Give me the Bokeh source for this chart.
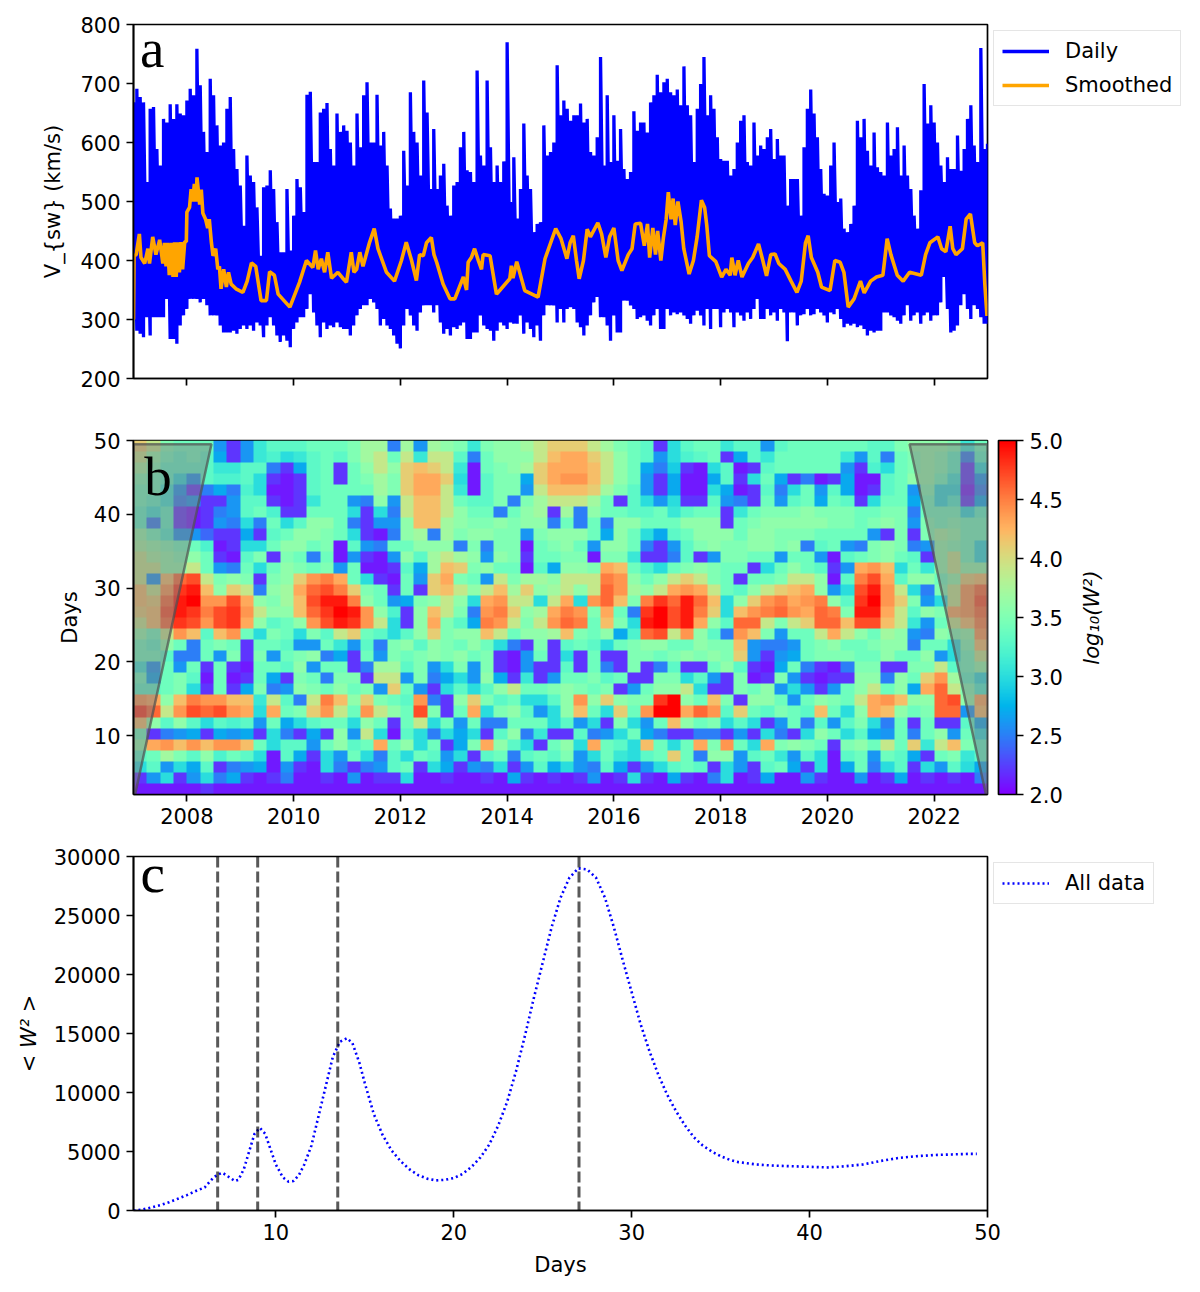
import math
import numpy as np
from bokeh.plotting import figure
from bokeh.layouts import column, row
from bokeh.models import (Range1d, FixedTicker, Legend, LegendItem, Span, Label, ColorBar,
                          LinearColorMapper, NumeralTickFormatter)
from bokeh.embed import file_html
from bokeh.resources import INLINE

# ---------------- panel a data ----------------
daily_start = 2007.0
daily_end = 2023.0
daily_high = [668,691,677,668,533,657,660,589,561,640,634,665,640,665,649,646,671,691,680,759,697,618,584,708,680,629,595,600,657,677,589,555,527,459,578,544,533,490,408,524,527,553,521,465,414,414,521,417,476,538,524,482,681,686,567,567,651,657,667,589,561,649,618,629,620,600,561,649,592,680,702,600,600,681,595,618,561,488,471,471,476,586,527,685,618,600,544,705,651,521,623,521,544,564,493,476,527,533,592,618,553,550,533,722,578,561,705,592,533,561,533,568,770,499,575,471,521,632,544,521,448,462,465,629,578,584,600,731,
646,671,657,637,646,646,666,634,640,584,578,609,745,561,680,567,646,569,623,555,538,550,653,620,634,634,617,668,680,715,685,702,708,685,680,690,663,729,663,646,567,657,699,745,646,680,657,609,572,569,569,544,555,600,637,646,567,561,634,578,595,589,609,623,572,606,578,578,493,538,538,538,476,592,657,690,649,609,555,513,510,561,600,499,505,454,448,462,493,637,609,640,586,561,617,558,550,544,634,578,589,626,544,595,544,521,476,454,519,699,632,663,634,600,561,533,575,555,555,612,552,589,640,663,595,567,760,589,598]
daily_low = [307,281,276,270,304,273,304,304,304,304,335,267,267,259,290,307,318,335,335,335,329,335,324,307,307,307,290,278,278,278,281,276,284,290,284,290,281,295,290,270,290,304,290,273,262,273,264,253,284,295,304,304,318,343,312,290,270,295,284,290,287,295,287,284,284,273,290,307,318,324,324,335,329,318,290,301,290,284,273,259,251,290,318,307,290,281,312,324,324,324,312,324,295,276,284,273,287,284,290,295,267,267,278,278,307,290,284,281,264,281,295,290,284,295,293,293,307,276,295,284,270,290,264,307,324,324,324,295,
318,295,318,321,318,295,287,273,290,307,329,338,304,304,290,264,307,278,278,332,332,324,318,301,304,307,298,290,307,318,284,284,318,307,312,309,312,307,301,293,307,315,307,290,318,284,318,318,287,312,318,312,287,312,307,298,312,301,318,335,301,301,318,307,312,298,318,312,263,312,312,290,307,309,318,307,309,318,312,307,295,312,309,318,301,287,293,290,293,287,290,284,273,281,278,281,281,312,312,307,304,298,293,307,324,298,307,312,293,307,312,298,307,307,329,372,318,278,281,290,324,343,318,301,324,318,304,293,293]
smooth_years = [2007.00,2007.01,2007.05,2007.11,2007.14,2007.21,2007.27,2007.30,2007.36,2007.42,2007.49,2007.55,2007.58,2007.61,2007.64,2007.67,2007.71,2007.74,2007.77,2007.80,2007.83,2007.86,2007.89,2007.92,2007.96,2007.99,2008.00,2008.05,2008.08,2008.11,2008.14,2008.17,2008.19,2008.24,2008.27,2008.30,2008.35,2008.39,2008.42,2008.46,2008.49,2008.54,2008.58,2008.61,2008.64,2008.69,2008.74,2008.78,2008.83,2008.92,2009.05,2009.13,2009.21,2009.29,2009.39,2009.49,2009.55,2009.64,2009.71,2009.93,2010.11,2010.24,2010.36,2010.41,2010.46,2010.52,2010.58,2010.64,2010.71,2010.83,2010.92,2010.99,2011.08,2011.13,2011.18,2011.24,2011.30,2011.42,2011.51,2011.58,2011.74,2011.89,2012.02,2012.11,2012.21,2012.30,2012.36,2012.43,2012.49,2012.58,2012.63,2012.68,2012.80,2012.93,2013.02,2013.18,2013.24,2013.27,2013.33,2013.39,2013.46,2013.52,2013.55,2013.68,2013.80,2013.82,2014.05,2014.08,2014.11,2014.18,2014.33,2014.58,2014.71,2014.91,
2015.01,2015.12,2015.18,2015.24,2015.30,2015.35,2015.43,2015.50,2015.56,2015.70,2015.77,2015.85,2015.92,2016.00,2016.08,2016.15,2016.27,2016.34,2016.40,2016.50,2016.57,2016.63,2016.67,2016.73,2016.78,2016.82,2016.88,2016.93,2016.98,2017.02,2017.07,2017.11,2017.15,2017.20,2017.26,2017.31,2017.41,2017.49,2017.56,2017.64,2017.70,2017.74,2017.79,2017.91,2018.02,2018.10,2018.18,2018.21,2018.27,2018.33,2018.40,2018.52,2018.60,2018.71,2018.79,2018.86,2018.94,2019.02,2019.09,2019.21,2019.32,2019.43,2019.51,2019.59,2019.64,2019.70,2019.82,2019.89,2020.05,2020.14,2020.24,2020.31,2020.39,2020.50,2020.62,2020.69,2020.81,2020.92,2021.04,2021.12,2021.19,2021.31,2021.42,2021.54,2021.76,2021.84,2021.92,2022.07,2022.14,2022.22,2022.30,2022.35,2022.41,2022.53,2022.60,2022.68,2022.76,2022.81,2022.91,2022.95,2022.99]
smooth_vals = [300,408,410,445,405,395,420,395,440,410,435,395,430,390,430,375,430,372,431,372,431,380,431,385,432,432,482,490,521,500,530,500,541,495,520,480,470,455,470,430,408,420,385,390,352,385,355,380,360,352,346,365,396,390,332,332,381,375,343,321,363,400,388,417,385,403,380,414,370,380,370,363,414,380,385,414,390,430,454,420,380,365,400,431,400,366,410,408,430,439,410,397,360,335,335,372,350,397,405,420,400,385,410,408,343,345,369,391,370,398,349,338,403,454,
437,403,430,442,400,369,400,453,440,464,445,405,440,455,400,383,410,420,462,463,425,462,405,455,410,450,400,440,470,516,470,505,460,500,465,420,377,400,440,502,490,460,408,398,372,385,375,405,375,400,372,395,405,428,400,374,410,411,395,385,365,346,365,430,442,405,380,355,349,400,397,380,321,335,365,345,365,372,375,437,410,375,365,380,375,410,430,440,420,415,458,420,410,420,470,479,430,425,430,360,306]

# ---------------- panel b data: log10(W^2) x 10, rows top (50 d) to bottom (2 d) ----------------
power_grid = [
[41,39,35,34,34,34,26,22, 26,31,33,33,33,34,34,34, 35,37,37,25,37,26,37,36, 35,31,35,36,36,37,39,41, 41,41,39,37,35,34,33,22, 30,33,34,34,31,33,33,26, 33,34,34,34,34,34,34,33, 33,35,36,36,36,35,31,34],
[39,36,34,33,34,33,27,22, 26,31,32,30,31,33,34,33, 35,37,39,34,39,31,39,39, 33,25,34,36,36,36,39,42, 43,43,41,39,36,34,33,26, 30,32,33,34,22,27,33,31, 34,34,34,34,34,31,26,33, 25,34,35,36,35,33,25,33],
[37,35,33,33,33,33,31,31, 33,33,25,22,27,33,34,22, 34,36,39,36,41,42,41,39, 31,21,34,35,36,37,41,43, 43,43,42,39,36,34,27,25, 29,22,21,30,33,21,22,33, 34,34,34,34,34,26,22,32, 30,34,35,36,35,33,22,30],
[35,34,33,30,26,33,32,32, 33,30,22,21,22,33,34,22, 34,35,37,35,41,43,43,41, 30,21,33,35,35,27,41,43, 44,44,42,39,36,34,26,22, 27,21,21,27,33,22,30,34, 27,22,25,21,22,27,21,21, 33,34,36,36,34,31,22,26],
[34,34,31,26,22,25,27,25, 32,30,21,21,22,33,34,34, 34,34,37,35,41,43,43,39, 31,21,33,35,35,26,39,42, 42,42,41,37,35,33,26,22, 27,21,21,30,27,21,22,33, 25,30,34,26,33,27,21,22, 33,34,26,35,30,30,21,25],
[34,33,31,25,26,22,22,26, 33,33,22,21,22,31,34,34, 26,25,36,26,39,42,42,39, 34,33,33,35,25,35,37,39, 39,39,37,34,22,33,30,26, 30,22,22,33,26,25,22,34, 26,33,34,27,34,33,22,30, 34,34,27,34,30,32,22,27],
[33,31,33,22,21,22,25,26, 33,34,32,22,22,34,34,34, 30,22,30,25,39,42,42,39, 36,34,34,25,34,36,37,22, 37,25,36,34,34,33,33,34, 31,33,34,34,22,31,34,35, 35,35,36,35,35,35,34,34, 35,35,25,34,34,34,30,33],
[33,25,33,22,21,22,26,25, 30,25,34,30,33,36,36,34, 25,22,26,26,36,42,42,37, 36,35,35,36,35,36,36,25, 34,25,34,25,36,36,34,34, 34,36,36,36,22,34,35,36, 36,36,36,36,35,35,34,35, 36,35,26,35,34,35,34,34],
[36,34,32,26,26,24,22,22, 27,22,33,34,36,36,35,34, 30,22,21,25,36,37,25,37, 35,36,36,35,35,26,35,36, 36,36,34,27,36,34,30,27, 33,34,36,36,36,34,36,36, 35,35,35,34,34,34,34,26, 22,35,22,35,37,36,34,34],
[37,36,35,34,34,32,21,22, 30,30,34,36,36,34,35,21, 33,26,25,34,34,36,36,36, 25,35,25,35,35,21,34,35, 36,34,26,36,36,34,25,22, 26,33,35,36,35,35,36,36, 35,36,25,33,34,26,25,35, 36,35,25,26,36,35,34,30],
[39,37,36,35,36,34,22,21, 33,35,22,35,34,25,34,21, 26,22,21,26,36,33,37,39, 37,36,26,36,35,22,34,34, 35,35,21,35,35,31,22,22, 25,33,22,26,35,35,34,34, 26,34,34,26,21,33,34,35, 36,34,33,22,36,39,34,30],
[39,39,36,36,39,34,26,25, 34,30,34,36,35,34,35,26, 34,21,21,22,33,27,37,42, 41,35,36,34,34,21,33,27, 36,36,35,43,42,34,32,30, 34,35,36,35,34,34,22,30, 34,36,34,33,22,26,43,44, 42,30,34,31,36,39,36,36],
[39,26,42,46,47,39,35,36, 35,22,35,36,41,44,45,43, 34,30,22,21,34,26,41,43, 35,34,26,39,35,37,37,36, 39,39,39,45,44,36,34,36, 39,41,39,35,34,22,34,34, 35,39,39,36,21,33,45,47, 43,33,36,36,34,36,41,42],
[42,39,44,48,49,42,36,41, 39,25,36,37,43,46,47,45, 41,35,34,22,34,22,41,42, 39,36,39,42,37,41,36,37, 39,36,39,46,44,37,36,39, 43,44,43,39,34,33,36,39, 41,42,43,36,26,30,47,49, 44,39,30,25,35,39,44,46],
[42,41,46,49,50,44,44,47, 43,36,35,37,42,47,49,49, 45,36,34,26,27,35,36,39, 36,30,43,44,39,39,30,39, 43,30,44,46,42,35,45,48, 46,49,46,42,30,36,41,44, 45,43,44,45,36,33,48,50, 44,41,35,26,30,39,44,47],
[41,42,47,49,48,45,47,48, 44,39,36,36,42,46,48,50, 49,44,36,32,22,36,42,39, 35,25,44,45,41,36,37,43, 45,44,35,43,34,25,48,50, 47,49,45,41,30,42,44,45, 46,44,43,46,45,35,49,49, 43,39,33,36,35,43,44,46],
[39,42,46,48,47,44,47,48, 43,36,33,34,36,44,47,49, 48,44,39,30,22,36,43,35, 33,27,45,44,39,35,39,44, 46,45,34,42,35,30,49,50, 47,49,43,36,33,46,46,39, 35,39,41,46,46,42,47,47, 42,39,31,26,34,39,42,45],
[36,34,39,44,42,33,42,44, 34,30,35,34,30,35,33,39, 41,34,33,30,33,36,41,35, 36,36,42,39,34,36,36,37, 42,35,34,36,27,32,46,47, 39,44,36,33,25,44,42,35, 26,34,34,39,43,39,36,34, 37,36,26,25,36,35,36,44],
[34,33,36,34,25,34,35,34, 22,34,34,33,26,26,34,31, 26,33,25,35,36,33,36,35, 34,36,34,30,25,22,35,22, 33,34,33,30,34,35,36,36, 34,34,36,35,35,42,26,25, 25,26,34,35,36,34,34,35, 36,36,25,34,34,30,35,42],
[34,34,33,25,25,34,26,35, 22,35,26,34,35,36,25,27, 22,34,26,35,34,35,36,35, 36,34,35,22,21,26,34,22, 30,22,34,22,22,35,35,34, 35,36,35,36,35,41,26,22, 26,27,34,35,35,35,34,34, 36,34,34,36,26,30,34,39],
[31,26,34,26,34,22,34,22, 21,34,34,33,36,26,34,34, 22,25,37,37,33,35,26,30, 35,26,35,22,21,26,22,22, 33,22,34,25,22,35,22,25, 33,22,22,34,36,33,22,21, 27,34,25,22,21,25,35,35, 22,22,35,35,39,33,34,36],
[34,27,34,35,33,21,34,21, 22,34,27,22,35,34,25,35, 35,22,39,39,26,35,25,27, 30,26,36,27,22,31,22,26, 34,34,35,33,34,22,22,35, 35,30,33,26,22,35,21,22, 35,26,22,21,22,22,36,36, 25,36,34,41,44,37,33,30],
[33,33,34,35,30,22,34,22, 27,35,25,26,36,35,34,36, 34,35,26,41,34,26,22,30, 33,30,33,36,39,34,34,35, 36,35,34,35,22,26,34,36, 36,39,30,22,22,35,34,36, 26,30,26,22,26,34,36,39, 34,36,27,43,46,39,35,32],
[44,43,36,42,45,44,44,42, 42,31,39,33,25,39,45,42, 36,41,35,34,33,44,25,22, 36,41,35,33,34,30,30,33, 36,44,36,41,36,35,35,48, 50,36,34,42,35,22,36,36, 34,26,34,36,35,34,39,43, 44,42,36,36,46,47,36,43],
[48,46,39,44,47,46,47,44, 43,30,43,34,35,41,44,39, 34,44,39,36,34,47,35,22, 34,43,30,35,36,33,26,30, 36,42,34,30,41,34,44,50, 50,43,46,44,33,41,34,33, 35,34,33,42,34,30,36,43, 42,36,34,35,46,46,26,42],
[42,36,33,36,33,30,33,32, 33,26,34,27,30,33,34,34, 30,36,34,22,34,39,30,34, 26,34,25,25,34,34,34,30, 33,26,30,22,35,30,26,34, 42,36,34,35,30,33,30,22, 26,34,25,33,26,33,35,30, 25,34,22,34,22,22,33,27],
[34,22,25,26,27,22,27,26, 27,22,30,25,22,27,22,36, 26,39,30,21,33,30,25,30, 27,30,22,33,36,25,31,22, 22,33,25,26,30,34,27,25, 22,22,25,25,22,26,22,30, 25,22,30,36,34,30,33,27, 26,34,25,34,36,26,34,30],
[36,43,44,42,44,42,44,44, 42,34,30,33,33,26,34,36, 33,34,43,34,36,30,34,22, 27,35,43,36,33,30,22,34, 36,30,43,34,33,30,42,34, 30,34,43,35,44,34,30,43, 35,36,35,34,22,35,36,34, 39,34,41,31,39,42,35,33],
[33,34,37,35,33,36,32,34, 33,30,21,33,27,22,30,26, 34,30,25,33,30,34,33,26, 30,22,33,34,25,33,34,33, 35,26,30,34,31,30,33,34, 41,34,25,36,36,26,33,34, 31,26,33,30,21,33,34,26, 34,33,27,22,34,35,31,33],
[30,33,26,30,27,33,22,25, 26,27,21,26,22,21,30,25, 22,25,26,33,34,22,30,27, 22,26,25,30,22,26,33,27, 30,26,25,33,27,22,26,30, 33,34,33,22,30,26,22,33, 34,27,22,30,21,27,34,25, 30,33,22,30,26,33,30,27],
[22,26,30,22,26,30,25,27, 22,21,22,25,21,21,22,21, 26,21,22,22,30,21,21,22, 21,21,22,21,27,22,21,22, 21,22,26,21,22,30,22,21, 27,22,21,25,30,21,22,27, 21,21,26,22,21,21,26,21, 22,27,21,22,21,22,21,25],
[21,21,21,21,21,22,21,21, 21,21,21,21,21,21,21,21, 21,21,21,21,21,21,21,21, 21,21,21,21,21,21,21,21, 21,21,21,21,21,21,21,21, 21,21,21,21,21,21,21,21, 21,21,21,21,21,21,21,21, 21,21,21,21,21,21,21,21],
]
coi_left_x = [2007.03, 2008.46, 2007.0, 2007.0]
coi_left_y = [2, 49.5, 49.5, 2]
coi_right_x = [2022.97, 2021.54, 2023.0, 2023.0]
coi_right_y = [2, 49.5, 49.5, 2]

# ---------------- panel c data ----------------
global_days = [2.0,2.5,3,3.5,4,4.5,5,5.5,6,6.2,6.5,6.75,7,7.3,7.7,7.9,8.2,8.5,8.8,9.1,9.4,9.7,10,10.4,10.7,11,11.3,11.6,12,12.4,12.8,13.2,13.6,14,14.3,14.7,15,15.5,16,16.5,17,17.5,18,18.5,19,19.5,20,20.5,21,21.5,22,22.5,23,23.5,24,24.5,25,25.5,26,26.5,27,27.5,28,28.5,29,29.5,30,30.5,31,31.5,32,32.5,33,33.5,34,34.5,35,35.5,36,37,38,39,40,41,42,43,44,45,46,47,48,49,49.4]
global_power = [0,80,250,450,700,1000,1300,1650,1950,2300,2800,3050,3200,2900,2500,2600,3500,5000,6500,7000,6500,5200,3900,2800,2450,2500,3000,3900,5500,8000,10500,13000,14300,14600,14200,12500,10800,8200,6400,5100,4200,3500,3000,2700,2550,2600,2750,3100,3700,4500,5600,7200,9200,11800,14800,18000,21000,24000,26500,28200,29000,28900,28200,26500,24000,21200,18500,15800,13500,11500,9800,8400,7200,6200,5500,5000,4600,4300,4100,3900,3800,3750,3700,3650,3750,3900,4200,4450,4600,4700,4750,4800,4800]
peak_days = [6.73, 8.98, 13.48, 27.04]

year_ticks = [2008,2010,2012,2014,2016,2018,2020,2022]
velocity_ticks = [200,300,400,500,600,700,800]
period_ticks = [10,20,30,40,50]
power_ticks = [0,5000,10000,15000,20000,25000,30000]
days_ticks = [10,20,30,40,50]
cbar_ticks = [2.0,2.5,3.0,3.5,4.0,4.5,5.0]

# ---------------- helpers ----------------
FS = "21px"
L = 133
FW = 854
FH = 354
W_FULL = 1190

def base(right, top, bottom, xr, yr, xt, yt, ylabel, xlabel=None, show_xl=True, standoff=8):
    p = figure(frame_width=FW, frame_height=FH, min_border_left=L, min_border_right=right,
               min_border_top=top, min_border_bottom=bottom,
               x_range=Range1d(*xr), y_range=Range1d(*yr),
               output_backend="svg", toolbar_location=None)
    p.grid.visible = False
    p.outline_line_color = "black"
    p.outline_line_width = 1.7
    for ax in (p.xaxis[0], p.yaxis[0]):
        ax.minor_tick_line_color = None
        ax.major_tick_in = 0
        ax.major_tick_out = 7
        ax.major_tick_line_width = 1.7
        ax.axis_line_width = 1.7
        ax.major_label_text_font = "DejaVu Sans"
        ax.major_label_text_font_size = FS
        ax.major_label_text_color = "black"
        ax.major_label_standoff = 6
        ax.axis_label_text_font = "DejaVu Sans"
        ax.axis_label_text_font_size = FS
        ax.axis_label_text_font_style = "normal"
        ax.axis_label_text_color = "black"
    p.xaxis[0].ticker = FixedTicker(ticks=xt)
    p.yaxis[0].ticker = FixedTicker(ticks=yt)
    p.xaxis[0].formatter = NumeralTickFormatter(format="0")
    p.yaxis[0].formatter = NumeralTickFormatter(format="0")
    p.yaxis[0].axis_label = ylabel
    p.yaxis[0].axis_label_standoff = standoff
    if xlabel:
        p.xaxis[0].axis_label = xlabel
        p.xaxis[0].axis_label_standoff = 10
    if not show_xl:
        p.xaxis[0].major_label_overrides = {t: "" for t in xt}
    return p

def panel_letter(p, text, x, y):
    p.add_layout(Label(x=x, y=y, text=text, text_font="Liberation Serif", text_font_size="55px",
                       text_color="black", text_align="left", text_baseline="alphabetic"))

def make_legend(p, items):
    leg = Legend(items=items, location="top_left", orientation="vertical",
                 label_text_font="DejaVu Sans", label_text_font_size=FS, label_text_color="black",
                 border_line_color="#cccccc", border_line_width=1.7, background_fill_alpha=1,
                 glyph_width=47, glyph_height=22, label_standoff=16, padding=8, spacing=10,
                 margin=6, label_height=22)
    p.add_layout(leg, "right")

# ---------------- panel a ----------------
pa = base(0, 24, 32, (2007, 2023), (200, 800), year_ticks, velocity_ticks,
          "V_{sw} (km/s)", show_xl=False, standoff=12)
n = len(daily_high)
step = (daily_end - daily_start) / (n - 1)
dx, dy = [], []
for i in range(n):
    t = daily_start + i * step
    dx += [t, t]
    dy += [daily_low[i], daily_high[i]]
r1 = pa.line(dx, dy, line_color="#0000ff", line_width=3.3)
r2 = pa.line(smooth_years, smooth_vals, line_color="#ffa500", line_width=3.6)
panel_letter(pa, "a", 2007.12, 759)
make_legend(pa, [LegendItem(label="Daily", renderers=[r1]),
                 LegendItem(label="Smoothed", renderers=[r2])])

# ---------------- panel b ----------------
PB_RIGHT = 8
pb = base(PB_RIGHT, 30, 40, (2007, 2023), (2, 50), year_ticks, period_ticks, "Days", standoff=9)
palette = []
for i in range(256):
    x = i / 255
    rr = min(1, abs(2 * x - 0.5))
    gg = math.sin(math.pi * x)
    bb = math.cos(math.pi * x / 2)
    palette.append("#%02x%02x%02x" % (round(rr * 255), round(gg * 255), round(bb * 255)))
mapper = LinearColorMapper(palette=palette, low=2, high=5)
grid_rows = [[v / 10 for v in r] for r in reversed(power_grid)]
pb.image(image=[np.array(grid_rows, dtype=float)], x=2007, y=2, dw=16, dh=48, color_mapper=mapper)
for xs, ys in ((coi_left_x, coi_left_y), (coi_right_x, coi_right_y)):
    pb.patch(xs, ys, fill_color="#808080", fill_alpha=0.5, line_color="#505050", line_alpha=0.7, line_width=2.5)
panel_letter(pb, "b", 2007.2, 45.1)

# colour bar and its label live in a side figure
sb = figure(width=W_FULL - L - FW - PB_RIGHT, height=424, min_border_left=0, min_border_right=0,
            min_border_top=30, min_border_bottom=40, x_range=Range1d(0, 195), y_range=Range1d(0, 354),
            x_axis_location=None, y_axis_location=None, output_backend="svg", toolbar_location=None)
sb.grid.visible = False
sb.outline_line_color = None
cb = ColorBar(color_mapper=mapper, location=(3, 0), width=18, height=FH, padding=0,
              ticker=FixedTicker(ticks=cbar_ticks), formatter=NumeralTickFormatter(format="0.0"),
              major_tick_in=0, major_tick_out=7, major_tick_line_color="black", major_tick_line_width=1.7,
              minor_tick_line_color=None, bar_line_color="black", bar_line_width=1.7,
              major_label_text_font="DejaVu Sans", major_label_text_font_size=FS,
              major_label_text_color="black", label_standoff=6, background_fill_alpha=0, border_line_color=None)
sb.add_layout(cb, "center")
sb.add_layout(Label(x=96, y=177, text="log\u2081\u2080(W\u00b2)", angle=math.pi / 2,
                    text_font="DejaVu Sans", text_font_style="italic", text_font_size=FS,
                    text_align="center", text_baseline="middle", text_color="black"))

# ---------------- panel c ----------------
pc = base(0, 22, 74, (2, 50), (0, 30000), days_ticks, power_ticks,
          "< W\u00b2 >", xlabel="Days", standoff=10)
pc.yaxis[0].axis_label_text_font_style = "italic"
r3 = pc.line(global_days, global_power, line_color="#0000ff", line_width=2.6, line_dash=[2, 3])
for d in peak_days:
    pc.add_layout(Span(location=d, dimension="height", line_color="#000000", line_alpha=0.65,
                       line_width=3, line_dash=[11, 4]))
panel_letter(pc, "c", 2.4, 28560)
make_legend(pc, [LegendItem(label="All data", renderers=[r3])])

page = column(pa, row(pb, sb, spacing=0), pc, spacing=0)
open("out.html", "w").write(file_html(page, INLINE))
